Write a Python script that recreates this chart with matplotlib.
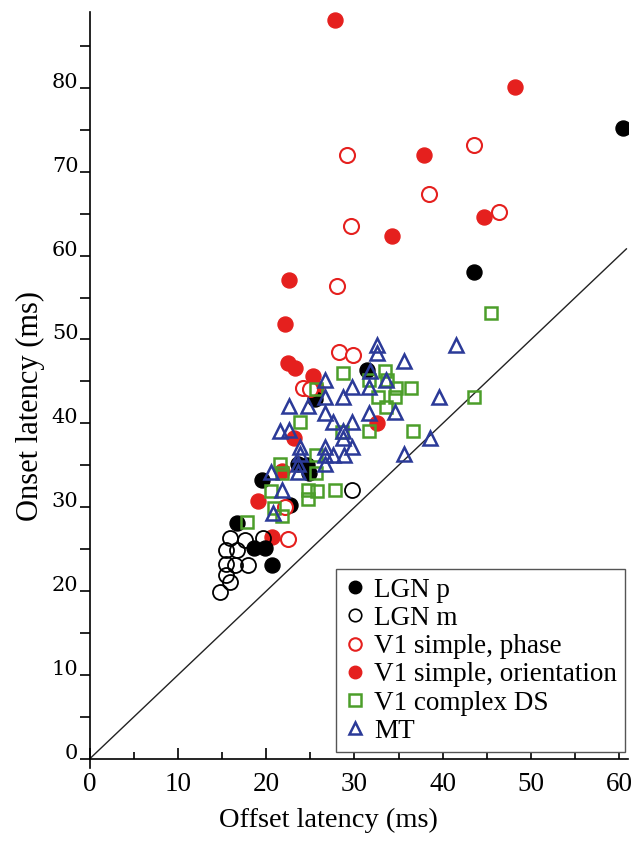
import matplotlib
matplotlib.use("Agg")
import matplotlib.pyplot as plt
from matplotlib.lines import Line2D

# ---- data (offset latency x, onset latency y), ms ----
lgn_p_x = [60.4, 43.5, 31.4, 25.5, 23.6, 24.6, 24.8, 19.5, 22.7, 16.7, 18.6, 19.9, 20.7]
lgn_p_y = [75.2, 58.1, 46.4, 42.9, 35.2, 35.0, 34.1, 33.3, 30.3, 28.1, 25.1, 25.1, 23.1]

lgn_m_x = [29.7, 15.9, 17.6, 19.7, 16.7, 15.5, 15.5, 16.5, 18.0, 15.5, 15.9, 14.8]
lgn_m_y = [32.1, 26.3, 26.1, 26.3, 24.9, 24.9, 23.3, 23.1, 23.1, 21.9, 21.1, 19.9]

v1_phase_x = [29.2, 43.5, 38.4, 46.4, 29.6, 28.0, 28.2, 29.8, 24.2, 25.0, 22.1, 22.5]
v1_phase_y = [72.0, 73.2, 67.3, 65.2, 63.5, 56.4, 48.5, 48.2, 44.2, 44.1, 30.0, 26.2]

v1_ori_x = [27.8, 48.2, 37.9, 44.7, 34.3, 22.6, 22.1, 22.5, 23.3, 25.3, 25.7, 32.5,
            23.1, 21.8, 19.1, 20.7]
v1_ori_y = [88.1, 80.1, 72.0, 64.6, 62.3, 57.1, 51.8, 47.2, 46.6, 45.6, 44.2, 40.0,
            38.2, 34.3, 30.7, 26.5]

v1_cx_x = [45.5, 28.7, 33.5, 33.7, 31.6, 25.7, 34.7, 36.4, 32.7, 34.6, 43.5, 33.6,
           23.8, 28.6, 31.7, 36.6, 25.7, 21.6, 21.8, 25.6, 20.6, 24.7, 25.8, 27.8,
           24.7, 20.9, 21.8, 17.8]
v1_cx_y = [53.1, 46.0, 46.3, 45.2, 45.2, 44.1, 44.2, 44.2, 43.2, 43.1, 43.2, 41.9,
           40.2, 39.0, 39.1, 39.1, 36.2, 35.2, 34.1, 34.1, 32.0, 32.1, 32.0, 32.1,
           31.0, 29.9, 29.0, 28.2]

mt_x = [32.6, 32.6, 41.5, 35.6, 31.8, 33.6, 26.7, 29.7, 31.7, 26.7, 28.7, 39.6,
        22.6, 24.7, 31.6, 34.6, 26.7, 27.6, 29.7, 21.6, 22.6, 28.7, 28.7, 38.6,
        23.8, 26.7, 29.7, 23.8, 26.7, 27.6, 28.8, 35.6, 23.6, 26.7, 20.6, 23.6,
        21.8, 20.8]
mt_y = [49.3, 48.4, 49.3, 47.4, 46.3, 45.2, 45.2, 44.3, 44.3, 43.2, 43.2, 43.2,
        42.1, 42.1, 41.2, 41.3, 41.2, 40.2, 40.2, 39.1, 39.2, 39.1, 38.3, 38.3,
        37.2, 37.2, 37.2, 36.4, 36.2, 36.2, 36.2, 36.4, 35.2, 35.2, 34.2, 34.2,
        32.1, 29.3]

diag = [0, 60.8]

x_ticks = [0, 10, 20, 30, 40, 50, 60]
y_ticks = [0, 10, 20, 30, 40, 50, 60, 70, 80]

labels = ["LGN p", "LGN m", "V1 simple, phase", "V1 simple, orientation",
          "V1 complex DS", "MT"]

RED = "#e5201e"
GREEN = "#4c9e2a"
BLUE = "#2b3a98"

fig = plt.figure(figsize=(6.34, 8.41), dpi=100)
ax = fig.add_axes([0.1412, 0.0975, 0.8496, 0.8879])

ax.plot(diag, diag, color="#222222", lw=1.0, zorder=1)

ms = 10.8
ax.plot(v1_ori_x, v1_ori_y, ls="none", marker="o", ms=ms, mfc=RED, mec=RED, zorder=2)
ax.plot(lgn_p_x, lgn_p_y, ls="none", marker="o", ms=ms, mfc="black", mec="black", zorder=2)
ax.plot(v1_phase_x, v1_phase_y, ls="none", marker="o", ms=ms, mfc="white", mec=RED,
        mew=1.5, zorder=3)
ax.plot(lgn_m_x, lgn_m_y, ls="none", marker="o", ms=ms, mfc="none", mec="black",
        mew=1.3, zorder=3)
ax.plot(v1_cx_x, v1_cx_y, ls="none", marker="s", ms=8.5, mfc="none", mec=GREEN,
        mew=1.8, zorder=4)
ax.plot(mt_x, mt_y, ls="none", marker="^", ms=9.5, mfc="none", mec=BLUE,
        mew=1.8, zorder=5)

ax.set_xlim(0, 61)
ax.set_ylim(0, 89)
ax.spines["top"].set_visible(False)
ax.spines["right"].set_visible(False)
ax.spines["left"].set_linewidth(1.2)
ax.spines["bottom"].set_linewidth(1.2)
ax.spines["left"].set_bounds(-1.1, 89)

ax.set_xticks(x_ticks)
ax.set_xticks([5, 15, 25, 35, 45, 55], minor=True)
ax.set_yticks(y_ticks)
ax.set_yticks([5, 15, 25, 35, 45, 55, 65, 75, 85], minor=True)
ax.set_xticklabels([str(v) for v in x_ticks], fontfamily="Liberation Serif", fontsize=19.5)
ax.set_yticklabels([str(v) for v in y_ticks], fontfamily="DejaVu Serif", fontsize=15,
                   va="baseline")

ax.tick_params(axis="x", which="major", direction="in", length=8, width=1.2, pad=9)
ax.tick_params(axis="x", which="minor", direction="in", length=5, width=1.2)
ax.tick_params(axis="y", which="major", direction="out", length=7, width=1.2, pad=1)
ax.tick_params(axis="y", which="minor", direction="out", length=7, width=1.2)

ax.set_xlabel("Offset latency (ms)", fontfamily="Liberation Serif", fontsize=20.5)
ax.xaxis.set_label_coords(0.443, -0.066)
ax.set_ylabel("Onset latency (ms)", fontfamily="Liberation Serif", fontsize=22)
ax.yaxis.set_label_coords(-0.082, 0.473)

handles = [
    Line2D([], [], ls="none", marker="o", ms=9, mfc="black", mec="black"),
    Line2D([], [], ls="none", marker="o", ms=9, mfc="none", mec="black", mew=1.2),
    Line2D([], [], ls="none", marker="o", ms=9, mfc="none", mec=RED, mew=1.5),
    Line2D([], [], ls="none", marker="o", ms=9, mfc=RED, mec=RED),
    Line2D([], [], ls="none", marker="s", ms=8, mfc="none", mec=GREEN, mew=1.8),
    Line2D([], [], ls="none", marker="^", ms=8.5, mfc="none", mec=BLUE, mew=1.8),
]
leg = ax.legend(handles, labels, loc="lower right", bbox_to_anchor=(0.994, 0.0094),
                borderaxespad=0, frameon=True, fancybox=False, framealpha=1,
                edgecolor="#555555", prop={"family": "Liberation Serif", "size": 19.5},
                handlelength=0.8, handletextpad=0.3, labelspacing=0.12,
                borderpad=0.3)
leg.get_frame().set_linewidth(1.0)

fig.savefig("out.png", dpi=100)
